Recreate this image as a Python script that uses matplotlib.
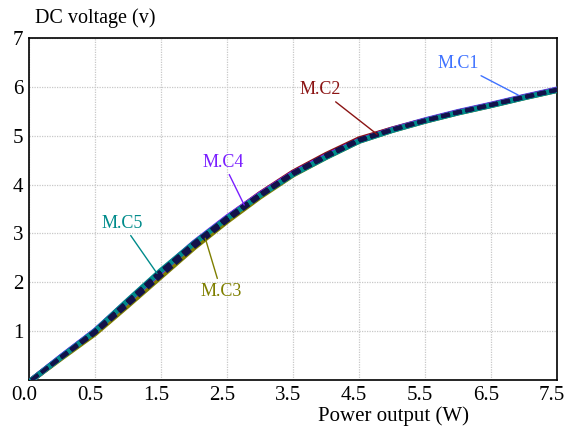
import matplotlib
matplotlib.use("Agg")
import matplotlib.pyplot as plt
from matplotlib.transforms import ScaledTranslation

plt.rcParams["font.family"] = ["Liberation Serif", "DejaVu Serif"]

# ---- data (x in axis-position units, ticks are labelled oddly) -------------
x = [0.04, 0.5, 1.0, 1.5, 2.0, 2.5, 3.0, 3.5, 4.0, 4.5, 5.0, 5.5, 6.0, 6.5, 7.0, 7.5, 8.0]
mc1 = [0.00, 0.49, 1.00, 1.61, 2.21, 2.79, 3.31, 3.79, 4.23, 4.58, 4.91, 5.13, 5.32, 5.49, 5.64, 5.80, 5.95]
mc2 = [0.00, 0.48, 0.99, 1.60, 2.20, 2.79, 3.32, 3.81, 4.25, 4.61, 4.93, 5.13, 5.31, 5.48, 5.63, 5.79, 5.94]
mc3 = [0.00, 0.46, 0.95, 1.53, 2.12, 2.71, 3.25, 3.75, 4.20, 4.56, 4.89, 5.11, 5.30, 5.47, 5.62, 5.78, 5.93]
mc4 = [0.00, 0.49, 1.01, 1.62, 2.22, 2.81, 3.33, 3.80, 4.23, 4.58, 4.90, 5.12, 5.31, 5.48, 5.63, 5.79, 5.94]
mc5 = [0.00, 0.48, 1.00, 1.63, 2.24, 2.80, 3.31, 3.78, 4.21, 4.56, 4.89, 5.11, 5.30, 5.47, 5.62, 5.78, 5.93]

names = ["M.C1", "M.C2", "M.C3", "M.C4", "M.C5"]
colors = ["#3f72ff", "#8b1414", "#7f7f00", "#7a1fff", "#008b8b"]

xtick_pos = [0, 1, 2, 3, 4, 5, 6, 7, 8]
xtick_lab = ["0.0", "0.5", "1.5", "2.5", "3.5", "4.5", "5.5", "6.5", "7.5"]
ytick_pos = [1, 2, 3, 4, 5, 6, 7]

# label text position, leader end on the curve
ann = {
    "M.C1": ((6.5, 6.47), (7.41, 5.83)),
    "M.C2": ((4.41, 5.94), (5.27, 5.03)),
    "M.C3": ((2.91, 1.82), (2.67, 2.90)),
    "M.C4": ((2.94, 4.46), (3.26, 3.58)),
    "M.C5": ((1.41, 3.21), (1.94, 2.18)),
}

fig = plt.figure(figsize=(5.68, 4.26), dpi=100)
ax = fig.add_axes([0.051, 0.108, 0.930, 0.803])

series = [mc1, mc2, mc3, mc4, mc5]
for ys, c in zip(series, colors):
    ax.plot(x, ys, color=c, lw=4.0, solid_capstyle="round", zorder=3)
for ys, c in zip(series, colors):
    ax.plot(x, ys, color="#12124a", lw=2.4, dashes=(2.5, 1.2), zorder=4)

for n, c in zip(names, colors):
    (tx, ty), (px, py) = ann[n]
    ax.annotate(n, xy=(px, py), xytext=(tx, ty), color=c, fontsize=13,
                ha="center", va="center", zorder=5,
                arrowprops=dict(arrowstyle="-", color=c, lw=1.0,
                                shrinkA=1, shrinkB=0))

ax.set_xlim(0, 8)
ax.set_ylim(0, 7)
ax.set_xticks(xtick_pos)
ax.set_xticklabels(xtick_lab)
ax.set_yticks(ytick_pos)
ax.tick_params(length=0, labelsize=15, pad=4)
ax.grid(True, color="#c8c8c8", linestyle=(0, (1, 1)), lw=0.9)
for s in ax.spines.values():
    s.set_color("black")
    s.set_linewidth(1.2)

# x tick labels sit a little left of their grid lines in the original
shift = ScaledTranslation(-5 / 100, 0, fig.dpi_scale_trans)
for lab in ax.get_xticklabels():
    lab.set_transform(lab.get_transform() + shift)

fig.text(0.062, 0.958, "DC voltage (v)", fontsize=14.5, ha="left", va="center")
fig.text(0.692, 0.024, "Power output (W)", fontsize=15, ha="center", va="center")

fig.savefig("out.png", dpi=100, facecolor="white")
